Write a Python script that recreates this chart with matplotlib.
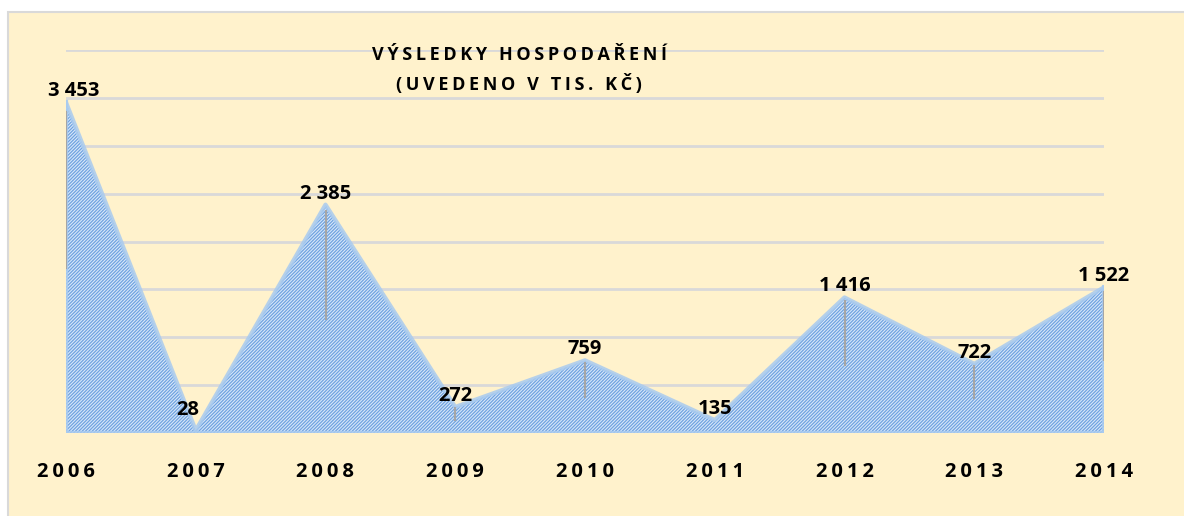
import numpy as np
import matplotlib
matplotlib.use("Agg")
import matplotlib.pyplot as plt
from matplotlib.patches import Rectangle

years = ["2006", "2007", "2008", "2009", "2010", "2011", "2012", "2013", "2014"]
values = [3453, 28, 2385, 272, 759, 135, 1416, 722, 1522]
labels = ["3 453", "28", "2 385", "272", "759", "135", "1 416", "722", "1 522"]
title_lines = ["VÝSLEDKY HOSPODAŘENÍ", "(UVEDENO V TIS. KČ)"]

plt.rcParams['font.family'] = ['Open Sans', 'DejaVu Sans']
plt.rcParams['hatch.linewidth'] = 0.9

def spaced(s, sep='\u2009'):
    return sep.join(s)

W, H = 1184, 516
fig = plt.figure(figsize=(W / 100, H / 100), dpi=100)
fig.patch.set_facecolor('white')

# cream chart area with light frame
bg = Rectangle((8 / W, -0.1), 1.2, 1.1 - 12 / H, transform=fig.transFigure,
               facecolor='#FFF2CC', edgecolor='#D9D9D9', linewidth=1.5, zorder=-5)
fig.patches.append(bg)

ax = fig.add_axes([66 / W, 1 - 433 / H, (1104 - 66) / W, (433 - 50) / H])
ax.set_facecolor('none')
x = np.arange(len(values))
v = np.array(values)

ax.fill_between(x, 0, v, facecolor='#D9E8F9', edgecolor='#6FA3E0', hatch='/' * 10,
                linewidth=0, zorder=2)
# soft edge of the area
edge = dict(color='#A9CBEF', lw=3, alpha=0.85, zorder=3, solid_joinstyle='round')
ax.plot(x, v, **edge)
ax.plot([0, 0], [0, v[0]], **edge)
ax.plot([x[-1], x[-1]], [0, v[-1]], **edge)
ax.plot([0, x[-1]], [0, 0], **edge)

# leader lines
for i, val in enumerate(values):
    if i in (1, 5):
        continue
    ax.plot([i, i], [val * 0.97, val * 0.5], color='#A6A6A6', lw=1.5, zorder=4)

for i, (val, lab) in enumerate(zip(values, labels)):
    dx = -8 if i == 1 else (8 if i == 0 else 0)
    dy = 10 if i == 1 else 1
    ax.annotate(lab, (i, val), xytext=(dx, dy), textcoords='offset pixels',
                ha='center', va='bottom', fontsize=14.5, fontweight='bold',
                color='black', zorder=5)

ax.set_xlim(0, len(values) - 1)
ax.set_ylim(0, 4000)
ax.set_yticks(np.arange(0, 4001, 500))
ax.set_yticklabels([])
ax.yaxis.grid(True, color='#D9D9D9', lw=2)
ax.set_axisbelow(True)
ax.set_xticks(x)
ax.set_xticklabels([spaced(y) for y in years], fontsize=14.5, fontweight='bold')
ax.tick_params(axis='both', length=0)
ax.tick_params(axis='x', pad=21)
for s in ax.spines.values():
    s.set_visible(False)

for line, ypx in zip(title_lines, [55, 84]):
    fig.text(519 / W, 1 - ypx / H, spaced(line), ha='center', va='center',
             fontsize=13, fontweight='bold')

fig.savefig('out.png', dpi=100, facecolor=fig.get_facecolor())
